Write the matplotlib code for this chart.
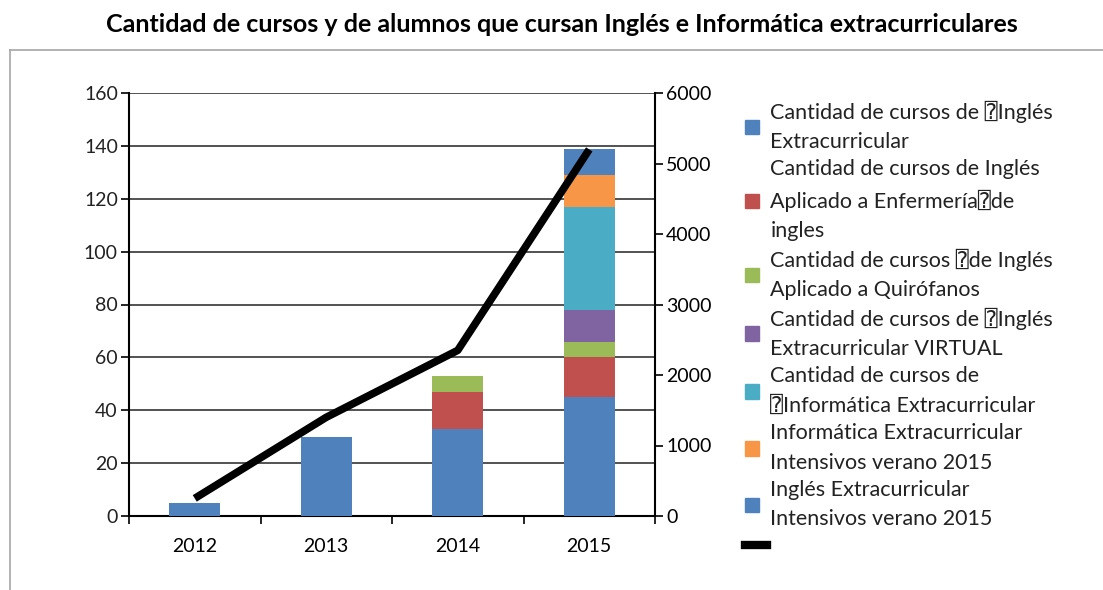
import matplotlib
matplotlib.use("Agg")
import matplotlib.pyplot as plt
import numpy as np
from matplotlib.patches import Patch, Rectangle
from matplotlib.lines import Line2D
from matplotlib.legend_handler import HandlerPatch

plt.rcParams['font.family'] = ['Lato', 'DejaVu Sans', 'DejaVu Sans Mono']

# data
years = ['2012', '2013', '2014', '2015']
ingles_extra = [5, 30, 33, 45]
ingles_enfermeria = [0, 0, 14, 15]
ingles_quirofanos = [0, 0, 6, 6]
ingles_virtual = [0, 0, 0, 12]
informatica_extra = [0, 0, 0, 39]
informatica_verano = [0, 0, 0, 12]
ingles_verano = [0, 0, 0, 10]
alumnos = [250, 1400, 2350, 5200]

series = [ingles_extra, ingles_enfermeria, ingles_quirofanos, ingles_virtual,
          informatica_extra, informatica_verano, ingles_verano]
colors = ['#4F81BD', '#C0504D', '#9BBB59', '#8064A2', '#4BACC6', '#F79646', '#4F81BD']
labels = ['Cantidad de cursos de \u2370Inglés\nExtracurricular',
          'Cantidad de cursos de Inglés\nAplicado a Enfermería\u2370de\ningles',
          'Cantidad de cursos \u2370de Inglés\nAplicado a Quirófanos',
          'Cantidad de cursos de \u2370Inglés\nExtracurricular VIRTUAL',
          'Cantidad de cursos de\n\u2370Informática Extracurricular',
          'Informática Extracurricular\nIntensivos verano 2015',
          'Inglés Extracurricular\nIntensivos verano 2015']

fig = plt.figure(figsize=(11.03, 5.90), dpi=100)
ax = fig.add_axes([129/1103, 1-516/590, (655-129)/1103, (516-93)/590])

x = np.arange(len(years))
bottom = np.zeros(len(years))
for vals, c in zip(series, colors):
    ax.bar(x, vals, width=0.39, bottom=bottom, color=c, zorder=3)
    bottom += np.array(vals)

ax.set_xlim(-0.5, 3.5)
ax.set_ylim(0, 160)
ax.set_yticks(range(0, 161, 20))
ax.grid(axis='y', color='#444444', linewidth=1.3, zorder=0)
ax.set_axisbelow(True)
ax.set_xticks(np.arange(-0.5, 4, 1))
ax.set_xticklabels([])
ax.set_xticks(x, minor=True)
ax.set_xticklabels(years, minor=True)
ax.tick_params(axis='x', which='minor', length=0, pad=16, labelsize=14)
ax.tick_params(axis='x', which='major', length=6, width=1.2, direction='out')
ax.tick_params(axis='y', length=6, width=1.2, labelsize=14, pad=2, colors='#222222')
ax.tick_params(axis='y', color='black')
for s in ['top', 'right']:
    ax.spines[s].set_visible(False)
for s in ['left', 'bottom']:
    ax.spines[s].set_linewidth(1.5)

ax2 = ax.twinx()
ax2.plot(x, alumnos, color='black', linewidth=5.5, solid_capstyle='butt', zorder=5)
ax2.set_ylim(0, 6000)
ax2.set_yticks(range(0, 6001, 1000))
ax2.tick_params(axis='y', length=6, width=1.2, labelsize=14, pad=2)
for s in ['top', 'left', 'bottom']:
    ax2.spines[s].set_visible(False)
ax2.spines['right'].set_linewidth(1.5)

fig.text(562/1103, 1-25/590, 'Cantidad de cursos y de alumnos que cursan Inglés e Informática extracurriculares',
         ha='center', va='center', fontsize=18, fontweight='bold')

# chart frame
fig.add_artist(Line2D([10/1103, 1], [1-50/590, 1-50/590], color='#a6a6a6', linewidth=1.2))
fig.add_artist(Line2D([10/1103, 10/1103], [1-50/590, 0], color='#a6a6a6', linewidth=1.2))


def square(legend, orig_handle, xdescent, ydescent, width, height, fontsize):
    s = 10.5
    return Rectangle((-xdescent, -ydescent + height/2 - s/2), s, s)


handles = [Patch(color=c) for c in colors]
handles.append(Line2D([0], [0], color='black', linewidth=6))
leg = fig.legend(handles, labels + [''], loc='upper left', bbox_to_anchor=(736/1103, 1-92/590),
                 frameon=False, fontsize=15.5, labelspacing=0.34, handlelength=1.05,
                 handletextpad=0.15, borderaxespad=0,
                 handler_map={Patch: HandlerPatch(patch_func=square)})
for t in leg.get_texts():
    t.set_linespacing(1.58)
    t.set_color('#222222')

fig.savefig('out.png', dpi=100)
